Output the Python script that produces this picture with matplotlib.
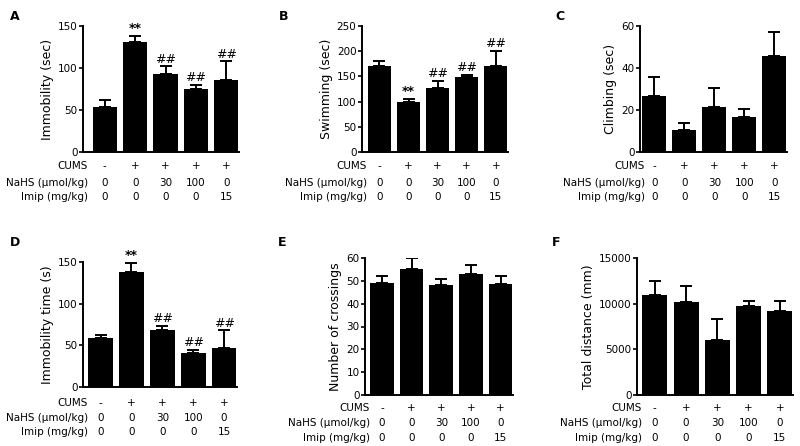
import matplotlib
matplotlib.use("Agg")
import matplotlib.pyplot as plt
import numpy as np

plt.rcParams['font.family'] = ['DejaVu Sans']

cums = ['-', '+', '+', '+', '+']
nahs = ['0', '0', '30', '100', '0']
imip = ['0', '0', '0', '0', '15']
row_labels = ['CUMS', 'NaHS (μmol/kg)', 'Imip (mg/kg)']

a_vals = [53, 131, 93, 75, 86]
a_err = [9, 7, 9, 5, 22]
a_sig = ['', '**', '##', '##', '##']

b_vals = [171, 99, 127, 148, 170]
b_err = [10, 7, 14, 5, 31]
b_sig = ['', '**', '##', '##', '##']

c_vals = [26.5, 10.5, 21.5, 16.5, 45.5]
c_err = [9, 3.5, 9, 4, 11.5]
c_sig = ['', '', '', '', '']

d_vals = [59, 138, 68, 41, 47]
d_err = [3, 11, 5, 4, 21]
d_sig = ['', '**', '##', '##', '##']

e_vals = [49, 55, 48, 53, 48.5]
e_err = [3, 5, 3, 4, 3.5]
e_sig = ['', '', '', '', '']

f_vals = [11000, 10150, 6050, 9700, 9200]
f_err = [1450, 1800, 2250, 550, 1100]
f_sig = ['', '', '', '', '']

W, H = 800, 446
fig = plt.figure(figsize=(8, 4.46), dpi=100)

panels = [
    ('A', a_vals, a_err, a_sig, 'Immobility (sec)', 150, [0, 50, 100, 150], (83, 239, 26, 152), -0.72, (166, 183, 197), (10, 17)),
    ('B', b_vals, b_err, b_sig, 'Swimming (sec)', 250, [0, 50, 100, 150, 200, 250], (362, 508, 26, 152), -0.6, (166, 183, 197), (279, 17)),
    ('C', c_vals, c_err, c_sig, 'Climbing (sec)', 60, [0, 20, 40, 60], (640, 787, 26, 152), -0.47, (166, 183, 197), (555, 17)),
    ('D', d_vals, d_err, d_sig, 'Immobility time (s)', 150, [0, 50, 100, 150], (83, 237, 262, 387), -0.57, (403, 418, 432), (10, 242)),
    ('E', e_vals, e_err, e_sig, 'Number of crossings', 60, [0, 10, 20, 30, 40, 50, 60], (365, 513, 258, 395), -0.57, (408, 423, 438), (278, 242)),
    ('F', f_vals, f_err, f_sig, 'Total distance (mm)', 15000, [0, 5000, 10000, 15000], (637, 793, 258, 395), -0.57, (408, 423, 438), (552, 242)),
]

x = np.arange(5)
for letter, vals, err, sig, ylabel, ymax, yticks, (x0, x1, yt, yb), xleft, rows, (lx, ly) in panels:
    ax = fig.add_axes([x0 / W, 1 - yb / H, (x1 - x0) / W, (yb - yt) / H])
    ax.bar(x, vals, width=0.8, color='black', zorder=2)
    ax.errorbar(x, vals, yerr=[np.zeros(5), err], fmt='none', ecolor='black',
                elinewidth=1.4, capsize=4.5, capthick=1.4, zorder=1)
    for xi, v, e, s in zip(x, vals, err, sig):
        if s:
            ax.annotate(s, (xi, v + e), xytext=(0, 0.5), textcoords='offset points',
                        ha='center', va='bottom', fontsize=9, fontweight='bold' if s == '**' else 'normal')
    ax.set_xlim(xleft, 4.42)
    ax.set_ylim(0, ymax)
    ax.set_yticks(yticks)
    ax.set_xticks([])
    for sp in ['top', 'right']:
        ax.spines[sp].set_visible(False)
    for sp in ['left', 'bottom']:
        ax.spines[sp].set_linewidth(1.4)
    ax.tick_params(axis='y', length=3, width=1.2, labelsize=7.5, pad=1)
    ax.set_ylabel(ylabel, fontsize=9, labelpad=3)
    hpx = yb - yt
    wpx = x1 - x0
    trans = ax.get_xaxis_transform()
    for r, (lab, vals_row) in enumerate(zip(row_labels, [cums, nahs, imip])):
        yf = -(rows[r] - yb) / hpx
        for xi, t in zip(x, vals_row):
            ax.text(xi, yf, t, transform=trans, ha='center', va='center', fontsize=7.5)
        ax.text(5 / wpx, yf, lab, transform=ax.transAxes, ha='right', va='center', fontsize=7.5)
    fig.text(lx / W, 1 - ly / H, letter, ha='left', va='center', fontsize=9, fontweight='bold')

fig.savefig('out.png', dpi=100)
